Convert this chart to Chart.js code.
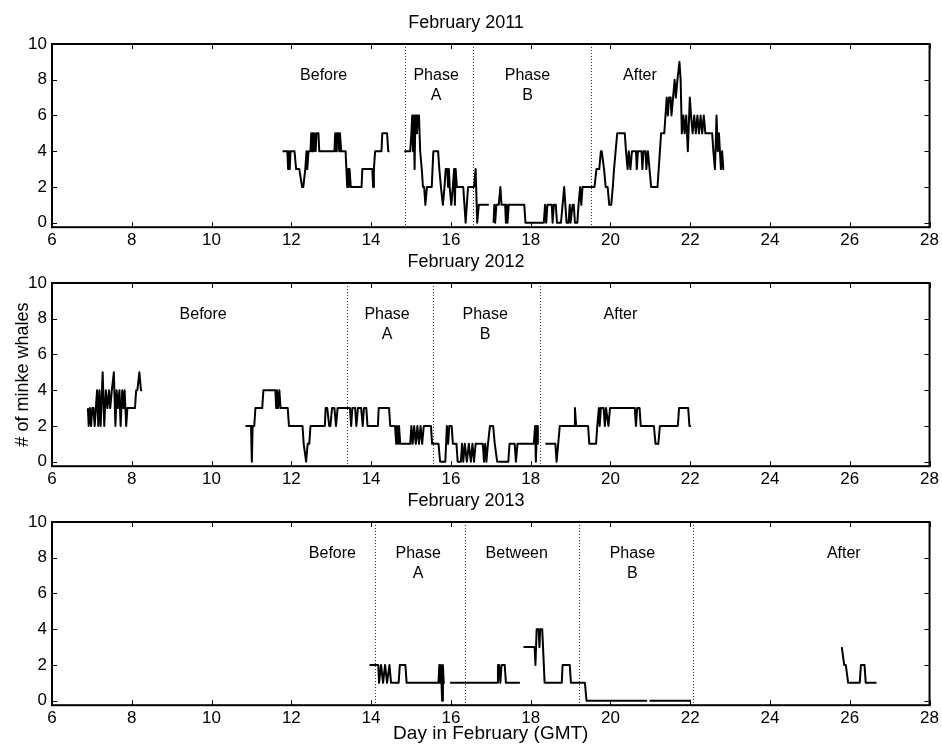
<!DOCTYPE html>
<html>
<head>
<meta charset="utf-8">
<script src="https://cdn.jsdelivr.net/npm/chart.js@4.4.1/dist/chart.umd.min.js"></script>
<style>
  body { margin: 0; background: #fff; width: 942px; height: 745px; position: relative; overflow: hidden; }
  canvas { position: absolute; left: 0; }
</style>
</head>
<body>
<canvas id="c2011" width="942" height="260" style="top:0px"></canvas>
<canvas id="c2012" width="942" height="260" style="top:239px"></canvas>
<canvas id="c2013" width="942" height="267" style="top:478px"></canvas>
<script>
const ticksX = [6, 8, 10, 12, 14, 16, 18, 20, 22, 24, 26, 28];
const ticksY = [0, 2, 4, 6, 8, 10];

// [day, whales] trace vertices; a null count breaks the trace
const whales2011 = [
  [11.78, 4], [11.9, 4], [11.92, 3], [11.94, 4], [11.96, 3], [11.98, 4], [12.08, 4], [12.12, 3],
  [12.2, 3], [12.27, 2], [12.3, 2], [12.35, 3], [12.38, 4], [12.4, 3], [12.43, 4], [12.48, 4],
  [12.5, 5], [12.52, 4], [12.54, 5], [12.56, 4], [12.58, 5], [12.61, 4], [12.63, 5], [12.68, 5],
  [12.7, 4], [13.08, 4], [13.1, 5], [13.12, 4], [13.14, 5], [13.18, 5], [13.2, 4], [13.22, 5],
  [13.25, 4], [13.36, 4], [13.38, 3], [13.4, 2], [13.42, 3], [13.44, 2], [13.46, 3], [13.49, 2],
  [13.76, 2], [13.78, 3], [14.03, 3], [14.05, 2], [14.07, 3], [14.1, 4], [14.26, 4], [14.28, 5],
  [14.4, 5], [14.43, 4], [14.46, 4],
  [14.6, null],
  [14.83, 4], [14.98, 4], [15.01, 5], [15.03, 6], [15.05, 4], [15.07, 6], [15.09, 3], [15.11, 6],
  [15.13, 6], [15.15, 5], [15.17, 6], [15.2, 6], [15.23, 4], [15.27, 3], [15.3, 2], [15.33, 2],
  [15.36, 1], [15.4, 2], [15.52, 2], [15.54, 3], [15.56, 4], [15.68, 4], [15.71, 3], [15.75, 2],
  [15.8, 1], [15.84, 2], [15.87, 3], [15.91, 3], [15.93, 2], [15.95, 3], [15.97, 2], [16.01, 1],
  [16.05, 2], [16.08, 3], [16.1, 1], [16.12, 3], [16.15, 2], [16.31, 2], [16.34, 1], [16.37, 0],
  [16.4, 1], [16.43, 2], [16.58, 2], [16.62, 3], [16.66, 0], [16.7, 1], [16.95, 1],
  [17.0, null],
  [17.07, 0], [17.09, 1], [17.11, 0], [17.14, 1], [17.2, 1], [17.24, 2], [17.27, 1], [17.36, 1],
  [17.38, 0], [17.4, 1], [17.42, 0], [17.45, 1], [17.84, 1], [17.87, 0], [18.33, 0], [18.36, 1],
  [18.39, 0], [18.42, 1], [18.53, 1], [18.55, 0], [18.58, 1], [18.63, 1], [18.66, 0], [18.76, 0],
  [18.8, 1], [18.84, 2], [18.87, 1], [18.9, 0], [18.95, 0], [18.98, 1], [19.0, 0], [19.05, 1],
  [19.08, 1], [19.11, 0], [19.17, 0], [19.2, 1], [19.24, 2], [19.27, 1], [19.3, 2], [19.6, 2],
  [19.65, 3], [19.72, 3], [19.76, 4], [19.78, 4], [19.84, 3], [19.88, 2], [19.93, 2], [19.97, 1],
  [20.02, 1], [20.06, 2], [20.09, 3], [20.13, 4], [20.17, 5], [20.36, 5], [20.39, 4], [20.43, 3],
  [20.46, 4], [20.5, 3], [20.54, 4], [20.64, 4], [20.66, 3], [20.69, 4], [20.78, 4], [20.8, 3],
  [20.83, 4], [20.88, 4], [20.9, 3], [20.94, 4], [20.98, 3], [21.02, 2], [21.18, 2], [21.21, 3],
  [21.24, 4], [21.27, 5], [21.35, 5], [21.38, 6], [21.41, 7], [21.44, 6], [21.47, 7], [21.51, 7],
  [21.53, 6], [21.57, 7], [21.61, 8], [21.64, 7], [21.68, 8], [21.73, 9], [21.76, 8], [21.79, 5],
  [21.83, 6], [21.86, 5], [21.9, 6], [21.94, 4], [21.99, 7], [22.02, 6], [22.06, 5], [22.1, 6],
  [22.14, 5], [22.18, 6], [22.22, 5], [22.26, 6], [22.3, 5], [22.34, 6], [22.38, 5], [22.55, 5],
  [22.58, 4], [22.62, 3], [22.66, 6], [22.69, 4], [22.72, 5], [22.77, 3], [22.8, 4], [22.83, 3],
  [22.85, 3]
];

const whales2012 = [
  [6.9, 3], [6.92, 2], [6.95, 3], [6.98, 2], [7.01, 3], [7.04, 3], [7.07, 2], [7.1, 3],
  [7.13, 4], [7.16, 2], [7.19, 4], [7.22, 2], [7.27, 5], [7.31, 2], [7.35, 4], [7.39, 3],
  [7.43, 4], [7.46, 3], [7.5, 4], [7.55, 5], [7.59, 2], [7.62, 4], [7.65, 3], [7.69, 4],
  [7.72, 2], [7.76, 4], [7.79, 3], [7.82, 4], [7.86, 2], [7.89, 3], [8.08, 3], [8.11, 4],
  [8.14, 4], [8.19, 5], [8.23, 4], [8.26, 4],
  [9.0, null],
  [10.85, 2], [10.99, 2], [11.01, 0], [11.03, 2], [11.07, 2], [11.1, 3], [11.27, 3], [11.3, 4],
  [11.6, 4], [11.62, 3], [11.64, 4], [11.67, 3], [11.7, 4], [11.73, 3], [11.91, 3], [11.94, 2],
  [12.28, 2], [12.31, 1], [12.37, 0], [12.41, 1], [12.45, 1], [12.48, 2], [12.84, 2], [12.86, 3],
  [12.9, 3], [12.95, 2], [12.98, 2], [13.02, 3], [13.08, 3], [13.12, 2], [13.16, 3], [13.47, 3],
  [13.5, 2], [13.53, 3], [13.6, 3], [13.63, 2], [13.67, 3], [13.75, 3], [13.79, 2], [13.82, 3],
  [13.88, 3], [13.91, 2], [14.17, 2], [14.19, 3], [14.45, 3], [14.48, 2], [14.6, 2], [14.63, 1],
  [14.65, 2], [14.68, 1], [14.7, 2], [14.73, 1], [14.98, 1], [15.01, 2], [15.04, 1], [15.08, 2],
  [15.12, 1], [15.16, 2], [15.2, 1], [15.24, 2], [15.28, 1], [15.32, 2], [15.5, 2], [15.53, 1],
  [15.69, 1], [15.73, 0], [15.86, 0], [15.9, 2], [15.93, 1], [15.96, 2], [16.02, 2], [16.05, 1],
  [16.14, 1], [16.17, 0], [16.25, 0], [16.28, 1], [16.31, 0], [16.35, 1], [16.4, 0], [16.45, 1],
  [16.5, 0], [16.54, 1], [16.58, 0], [16.62, 1], [16.8, 1], [16.83, 0], [16.86, 1], [16.89, 0],
  [16.93, 1], [16.98, 2], [17.06, 2], [17.1, 1], [17.16, 0], [17.44, 0], [17.47, 1], [17.6, 1],
  [17.63, 0], [17.67, 1], [18.08, 1], [18.11, 2], [18.13, 0], [18.16, 2], [18.18, 1], [18.2, 1],
  [18.28, null],
  [18.37, 1], [18.62, 1], [18.65, 0], [18.69, 1], [18.73, 2], [19.09, 2], [19.11, 3], [19.14, 2],
  [19.44, 2], [19.47, 1], [19.64, 1], [19.67, 2], [19.71, 3], [19.73, 2], [19.76, 3], [19.83, 3],
  [19.86, 2], [19.89, 3], [19.95, 2], [19.99, 3], [20.61, 3], [20.64, 2], [20.67, 3], [20.73, 3],
  [20.76, 2], [21.09, 2], [21.13, 1], [21.2, 1], [21.24, 2], [21.69, 2], [21.72, 3], [21.95, 3],
  [21.98, 2], [22.02, 2]
];

const whales2013 = [
  [13.96, 2], [14.18, 2], [14.2, 1], [14.25, 2], [14.3, 1], [14.35, 2], [14.4, 1], [14.46, 2],
  [14.5, 1], [14.69, 1], [14.72, 2], [14.86, 2], [14.89, 1], [15.69, 1], [15.71, 2], [15.73, 1],
  [15.75, 2], [15.78, 0], [15.8, 2], [15.82, 1], [15.85, 1],
  [15.92, null],
  [15.98, 1], [17.16, 1], [17.18, 2], [17.21, 2], [17.24, 1], [17.27, 2], [17.35, 2], [17.38, 1],
  [17.73, 1],
  [17.78, null],
  [17.82, 3], [18.1, 3], [18.12, 2], [18.13, 2], [18.15, 4], [18.2, 4], [18.22, 3], [18.24, 4],
  [18.29, 4], [18.35, 1], [18.78, 1], [18.8, 2], [18.98, 2], [19.01, 1], [19.36, 1], [19.4, 0],
  [20.92, 0],
  [20.95, null],
  [20.98, 0], [22.02, 0],
  [24.0, null],
  [25.8, 3], [25.86, 2], [25.9, 2], [25.96, 1], [26.25, 1], [26.28, 2], [26.37, 2], [26.4, 1],
  [26.67, 1]
];

// dotted phase boundaries (day) and the text written in each phase
const phases2011 = [14.84, 16.55, 19.52];
const phases2012 = [13.4, 15.56, 18.23];
const phases2013 = [14.09, 16.35, 19.22, 22.06];
const labels2011 = [["Before"], ["Phase", "A"], ["Phase", "B"], ["After"]];
const labelDays2011 = [12.81, 15.63, 17.92, 20.74];
const labels2012 = [["Before"], ["Phase", "A"], ["Phase", "B"], ["After"]];
const labelDays2012 = [9.79, 14.4, 16.86, 20.25];
const labels2013 = [["Before"], ["Phase", "A"], ["Between"], ["Phase", "B"], ["After"]];
const labelDays2013 = [13.03, 15.18, 17.65, 20.55, 25.85];
const labelLines = [8.25, 7.1];

const fontFamily = '"Liberation Sans", Arial, Helvetica, sans-serif';
const plotBottom = 227.2;

function makeDecor(phases, labels, labelDays) {
  return {
    id: "decor",
    beforeDatasetsDraw(chart) {
      const { ctx, chartArea: a, scales: { x, y } } = chart;
      ctx.save();
      ctx.strokeStyle = "#333";
      ctx.lineWidth = 1;
      ctx.setLineDash([1, 2]);
      phases.forEach(d => {
        const px = Math.round(x.getPixelForValue(d)) + 0.5;
        ctx.beginPath();
        ctx.moveTo(px, a.top);
        ctx.lineTo(px, a.bottom);
        ctx.stroke();
      });
      ctx.setLineDash([]);
      ctx.fillStyle = "#000";
      ctx.font = "16px " + fontFamily;
      ctx.textAlign = "center";
      ctx.textBaseline = "middle";
      labels.forEach((lines, i) => {
        lines.forEach((t, j) => {
          ctx.fillText(t, x.getPixelForValue(labelDays[i]), y.getPixelForValue(labelLines[j]));
        });
      });
      ctx.restore();
    },
    afterDatasetsDraw(chart) {
      const { ctx, chartArea: a, scales: { x, y } } = chart;
      ctx.save();
      ctx.strokeStyle = "#000";
      ctx.lineWidth = 1;
      ticksX.forEach(v => {
        const px = Math.round(x.getPixelForValue(v)) + 0.5;
        ctx.beginPath();
        ctx.moveTo(px, a.bottom); ctx.lineTo(px, a.bottom - 5);
        ctx.moveTo(px, a.top); ctx.lineTo(px, a.top + 5);
        ctx.stroke();
      });
      ticksY.forEach(v => {
        const py = Math.round(y.getPixelForValue(v)) + 0.5;
        ctx.beginPath();
        ctx.moveTo(a.left, py); ctx.lineTo(a.left + 5, py);
        ctx.moveTo(a.right, py); ctx.lineTo(a.right - 5, py);
        ctx.stroke();
      });
      ctx.lineWidth = 2;
      ctx.strokeRect(a.left, a.top, a.right - a.left, a.bottom - a.top);
      ctx.restore();
    }
  };
}

function drawPanel(id, title, pairs, phases, labels, labelDays, yTitle, xTitle) {
  const canvas = document.getElementById(id);
  const h = canvas.height;
  return new Chart(canvas, {
    type: "line",
    data: {
      datasets: [{
        data: pairs.map(p => ({ x: p[0], y: p[1] })),
        borderColor: "#000",
        borderWidth: 2,
        borderJoinStyle: "round",
        pointRadius: 0,
        tension: 0,
        spanGaps: false,
        fill: false
      }]
    },
    options: {
      responsive: false,
      animation: false,
      layout: { padding: { left: 0, right: 10, top: 0, bottom: 0 } },
      plugins: {
        legend: { display: false },
        tooltip: { enabled: false },
        title: {
          display: true,
          text: title,
          color: "#000",
          font: { family: fontFamily, size: 18, weight: "normal" },
          padding: { top: 12, bottom: 10.4 }
        }
      },
      scales: {
        x: {
          type: "linear",
          min: 6,
          max: 28,
          grid: { display: false, drawTicks: false },
          border: { display: false },
          ticks: { color: "#000", font: { family: fontFamily, size: 17 }, padding: 3, maxRotation: 0, autoSkip: false },
          title: {
            display: !!xTitle,
            text: xTitle || "",
            color: "#000",
            font: { family: fontFamily, size: 19 },
            padding: { top: 0, bottom: 0 }
          },
          afterBuildTicks: s => { s.ticks = ticksX.map(v => ({ value: v })); },
          afterFit: s => { s.height = h - plotBottom; }
        },
        y: {
          min: -0.25,
          max: 10,
          grid: { display: false, drawTicks: false },
          border: { display: false },
          ticks: { color: "#000", font: { family: fontFamily, size: 17 }, padding: 5 },
          title: {
            display: !!yTitle,
            text: yTitle || "",
            color: "#000",
            font: { family: fontFamily, size: 18 },
            padding: { top: 12, bottom: 0 }
          },
          afterBuildTicks: s => { s.ticks = ticksY.map(v => ({ value: v })); },
          afterFit: s => { s.width = 52; }
        }
      }
    },
    plugins: [makeDecor(phases, labels, labelDays)]
  });
}

drawPanel("c2011", "February 2011", whales2011, phases2011, labels2011, labelDays2011);
drawPanel("c2012", "February 2012", whales2012, phases2012, labels2012, labelDays2012, "# of minke whales");
drawPanel("c2013", "February 2013", whales2013, phases2013, labels2013, labelDays2013, null, "Day in February (GMT)");
</script>
</body>
</html>
